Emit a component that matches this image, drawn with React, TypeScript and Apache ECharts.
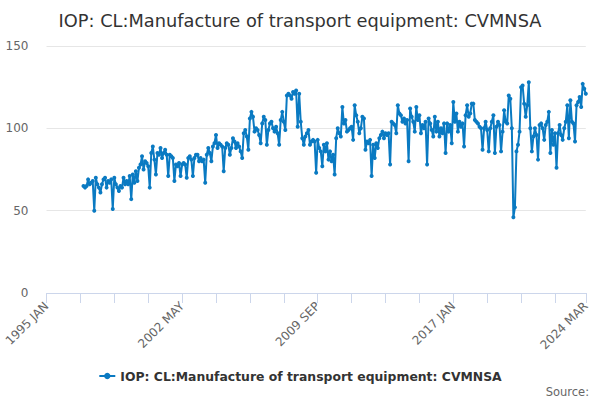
import React, { useEffect, useRef } from "react";
import * as echarts from "echarts";

const TITLE = "IOP: CL:Manufacture of transport equipment: CVMNSA";
const SERIES_NAME = "IOP: CL:Manufacture of transport equipment: CVMNSA";
const MONTHS = ["JAN", "FEB", "MAR", "APR", "MAY", "JUN", "JUL", "AUG", "SEP", "OCT", "NOV", "DEC"];
const FIRST_YEAR = 1995;
const LAST_YEAR = 2024;
const LAST_MONTHS = 3; // JAN..MAR 2024
const NO_DATA_MONTHS = 24; // 1995-1996 have no values

const y1997 = [65, 64, 65, 69, 66, 67, 68, 50, 70, 66, 64, 61];
const y1998 = [66, 69, 70, 64, 68, 67, 69, 51, 70, 66, 64, 62];
const y1999 = [65, 64, 70, 66, 68, 66, 71, 57, 72, 67, 74, 68];
const y2000 = [76, 78, 83, 75, 80, 79, 77, 64, 85, 89, 81, 72];
const y2001 = [85, 84, 88, 82, 85, 87, 84, 71, 84, 83, 82, 68];
const y2002 = [78, 77, 79, 71, 78, 79, 78, 70, 82, 83, 81, 71];
const y2003 = [82, 84, 84, 80, 82, 80, 81, 67, 84, 88, 85, 80];
const y2004 = [89, 91, 96, 88, 91, 90, 89, 74, 88, 91, 90, 84];
const y2005 = [88, 94, 92, 88, 91, 89, 86, 82, 97, 99, 95, 87];
const y2006 = [106, 110, 107, 98, 100, 99, 96, 91, 103, 107, 105, 90];
const y2007 = [99, 103, 104, 100, 98, 101, 97, 90, 105, 110, 104, 99];
const y2008 = [120, 121, 120, 118, 122, 121, 123, 101, 121, 104, 94, 90];
const y2009 = [95, 97, 99, 90, 92, 93, 92, 73, 93, 88, 86, 77];
const y2010 = [90, 86, 91, 81, 86, 80, 84, 72, 94, 100, 97, 95];
const y2011 = [113, 103, 105, 98, 99, 100, 101, 93, 114, 108, 104, 97];
const y2012 = [100, 107, 106, 87, 92, 91, 93, 71, 90, 82, 91, 88];
const y2013 = [94, 96, 98, 94, 97, 96, 97, 78, 104, 103, 102, 97];
const y2014 = [114, 109, 108, 104, 106, 103, 105, 80, 112, 107, 104, 98];
const y2015 = [113, 105, 108, 97, 102, 100, 104, 78, 106, 103, 99, 95];
const y2016 = [107, 98, 104, 95, 100, 97, 103, 85, 103, 98, 102, 91];
const y2017 = [116, 104, 109, 98, 104, 101, 103, 89, 108, 114, 107, 109];
const y2018 = [115, 115, 105, 104, 103, 101, 100, 87, 100, 104, 99, 86];
const y2019 = [100, 104, 108, 85, 101, 104, 102, 86, 98, 111, 104, 103];
const y2020 = [120, 118, 100, 46, 52, 86, 90, 98, 125, 126, 115, 107];
const y2021 = [114, 128, 100, 86, 95, 100, 96, 81, 102, 103, 100, 93];
const y2022 = [102, 104, 110, 85, 99, 90, 97, 76, 97, 102, 96, 93];
const y2023 = [100, 104, 114, 94, 117, 104, 103, 92, 114, 116, 119, 113];
const y2024 = [127, 124, 121];

const Y_MIN = 0;
const Y_MAX = 150;
const Y_INTERVAL = 50;
const TICK_EVERY = 22;
const LABEL_EVERY = 88;

function buildCategories(): string[] {
  const out: string[] = [];
  for (let y = FIRST_YEAR; y <= LAST_YEAR; y++) {
    const n = y === LAST_YEAR ? LAST_MONTHS : 12;
    for (let m = 0; m < n; m++) out.push(`${y} ${MONTHS[m]}`);
  }
  return out;
}

export default function App() {
  const ref = useRef<HTMLDivElement>(null);

  useEffect(() => {
    document.body.style.margin = "0";
    if (!ref.current) return;
    const chart = echarts.init(ref.current, null, { renderer: "svg" });
    const categories = buildCategories();
    const values: (number | null)[] = [
      ...new Array(NO_DATA_MONTHS).fill(null),
      ...y1997, ...y1998, ...y1999, ...y2000, ...y2001, ...y2002, ...y2003,
      ...y2004, ...y2005, ...y2006, ...y2007, ...y2008, ...y2009, ...y2010,
      ...y2011, ...y2012, ...y2013, ...y2014, ...y2015, ...y2016, ...y2017,
      ...y2018, ...y2019, ...y2020, ...y2021, ...y2022, ...y2023, ...y2024,
    ];
    const lastIdx = categories.length - 1;
    const font = "'DejaVu Sans', sans-serif";
    const color = "#0a7ac2";

    chart.setOption({
      animation: false,
      title: {
        text: TITLE,
        left: "center",
        top: 6,
        textStyle: { fontSize: 17.8, fontWeight: "normal", color: "#333333", fontFamily: font },
      },
      legend: {
        data: [SERIES_NAME],
        left: "center",
        top: 365,
        itemWidth: 16,
        itemHeight: 8,
        itemGap: 4,
        textStyle: { fontSize: 12.4, fontWeight: "bold", color: "#333333", fontFamily: font },
      },
      grid: { left: 46.5, right: 14.2, top: 46, bottom: 107, containLabel: false },
      xAxis: {
        type: "category",
        data: categories,
        boundaryGap: false,
        axisLine: { lineStyle: { color: "#ccd6eb", width: 1 } },
        axisTick: {
          show: true,
          length: 10,
          lineStyle: { color: "#ccd6eb" },
          interval: (i: number) => i % TICK_EVERY === 0 || i === lastIdx,
        },
        axisLabel: {
          rotate: 45,
          margin: 11,
          color: "#666666",
          fontSize: 12,
          fontFamily: font,
          interval: (i: number) => i % LABEL_EVERY === 0 || i === lastIdx,
        },
        splitLine: { show: false },
      },
      yAxis: {
        type: "value",
        min: Y_MIN,
        max: Y_MAX,
        interval: Y_INTERVAL,
        axisLine: { show: false },
        axisTick: { show: false },
        axisLabel: { color: "#666666", fontSize: 12, fontFamily: font, margin: 18 },
        splitLine: { lineStyle: { color: "#e6e6e6", width: 1 } },
      },
      series: [
        {
          name: SERIES_NAME,
          type: "line",
          data: values,
          color: color,
          lineStyle: { width: 2, color: color },
          itemStyle: { color: color },
          symbol: "circle",
          symbolSize: 4,
          showSymbol: true,
          showAllSymbol: true,
          connectNulls: false,
        },
      ],
      graphic: [
        {
          type: "text",
          right: 11,
          top: 386,
          style: { text: "Source:", fill: "#666666", fontSize: 11.5, fontFamily: font },
        },
      ],
    });

    return () => chart.dispose();
  }, []);

  return <div ref={ref} style={{ width: 600, height: 400 }} />;
}
